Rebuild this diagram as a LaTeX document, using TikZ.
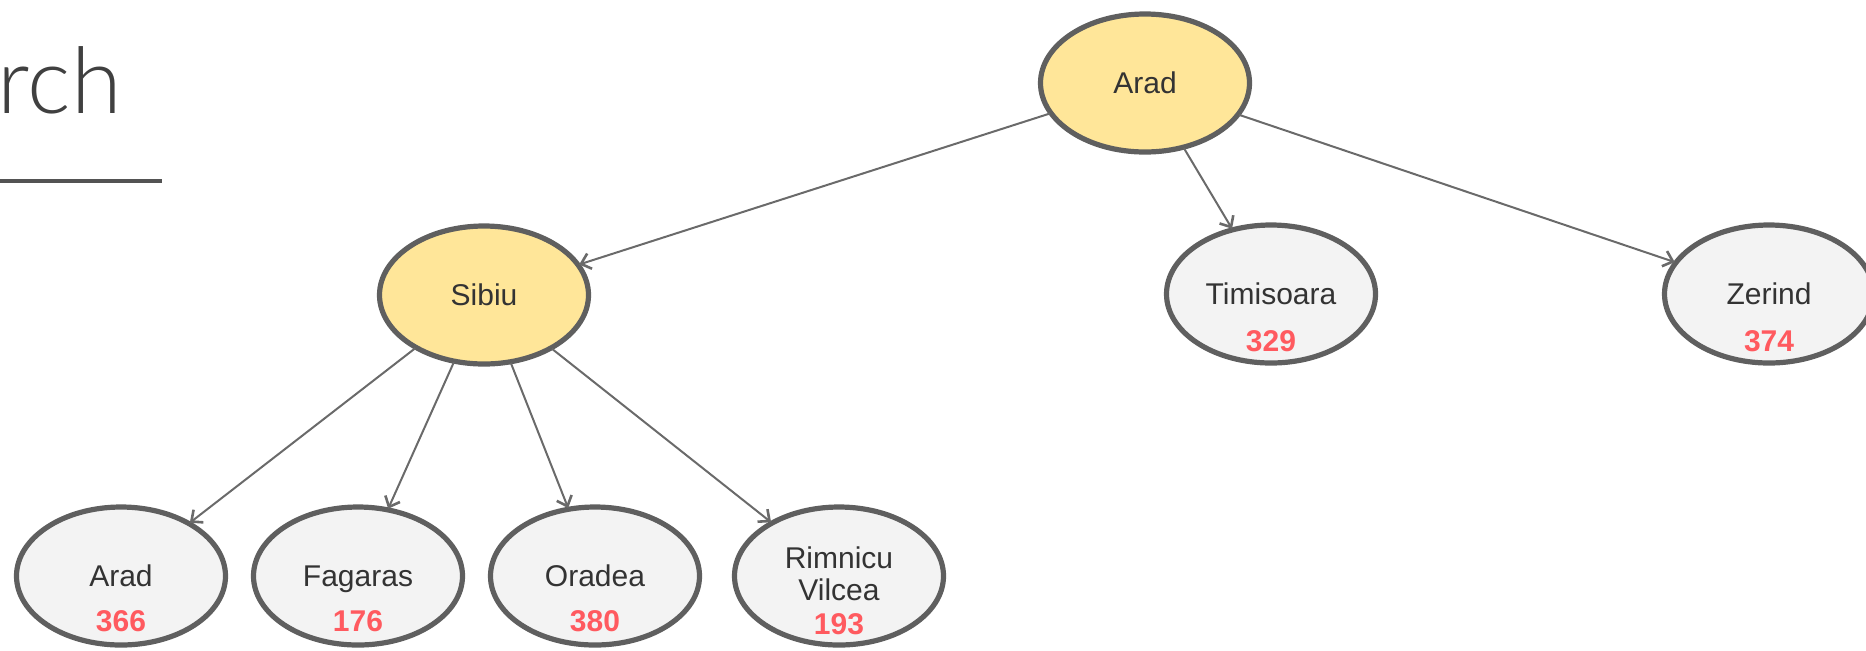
\documentclass[tikz,border=0pt]{standalone}
\usepackage{fontspec}
\setmainfont{Liberation Sans}
\newfontfamily\titlefont{Lato Light}
\usetikzlibrary{shapes.geometric,arrows.meta}
\definecolor{nodeyellow}{HTML}{FFE699}
\definecolor{nodegray}{HTML}{F3F3F3}
\definecolor{bordergray}{HTML}{5F5F5F}
\definecolor{edgegray}{HTML}{6A6A6A}
\definecolor{hred}{HTML}{FF5A5F}
\definecolor{txt}{HTML}{333333}
\definecolor{titlegray}{HTML}{404040}
\begin{document}
\begin{tikzpicture}[x=0.5pt,y=-0.5pt,
  city/.style={ellipse, draw=bordergray, line width=2.6pt, minimum width=104.5pt, minimum height=69pt, inner sep=0pt, outer sep=0.6pt},
  opencity/.style={city, fill=nodeyellow},
  leafcity/.style={city, fill=nodegray},
  cityname/.style={text=txt, font=\fontsize{15}{16}\selectfont, inner sep=0pt, text depth=0pt},
  cityname2/.style={text=txt, font=\fontsize{15}{16}\selectfont, inner sep=0pt, align=center},
  cost/.style={text=hred, font=\fontsize{15}{16}\selectfont\bfseries, inner sep=0pt},
  link/.style={draw=edgegray, line width=1pt, -{Straight Barb[length=4.5pt,width=8pt,line width=1.3pt]}}]
\useasboundingbox (0,0) rectangle (1866,650);
% title
\node[anchor=base east, text=titlegray, font=\titlefont\fontsize{46}{50}\selectfont, inner sep=0pt] (title) at (122,113) {Search};
\coordinate (ul1) at (-5,181);
\coordinate (ul2) at (162,181);
\draw[line width=2pt, draw=titlegray!90] (ul1) -- (ul2);
% nodes
\node[opencity] (arad) at (1145,83) {};
\node[opencity] (sibiu) at (484,295) {};
\node[leafcity] (timi) at (1271,294) {};
\node[leafcity] (zer) at (1769,294) {};
\node[leafcity] (arad2) at (121,576) {};
\node[leafcity] (fag) at (358,576) {};
\node[leafcity] (ora) at (595,576) {};
\node[leafcity] (rim) at (839,576) {};
% labels
\node[cityname] at (arad) {Arad};
\node[cityname] at (sibiu) {Sibiu};
\node[cityname] at (timi) {Timisoara};
\path (timi.center) ++(0,47) node[cost] {329};
\node[cityname] at (zer) {Zerind};
\path (zer.center) ++(0,47) node[cost] {374};
\node[cityname] at (arad2) {Arad};
\path (arad2.center) ++(0,45) node[cost] {366};
\node[cityname] at (fag) {Fagaras};
\path (fag.center) ++(0,45) node[cost] {176};
\node[cityname] at (ora) {Oradea};
\path (ora.center) ++(0,45) node[cost] {380};
\path (rim.center) ++(0,-2) node[cityname2] {Rimnicu\\Vilcea};
\path (rim.center) ++(0,48) node[cost] {193};
% edges
\draw[link] (arad) -- (sibiu);
\draw[link] (arad) -- (timi);
\draw[link] (arad) -- (zer);
\draw[link] (sibiu) -- (arad2);
\draw[link] (sibiu) -- (fag);
\draw[link] (sibiu) -- (ora);
\draw[link] (sibiu) -- (rim);
\end{tikzpicture}
\end{document}
